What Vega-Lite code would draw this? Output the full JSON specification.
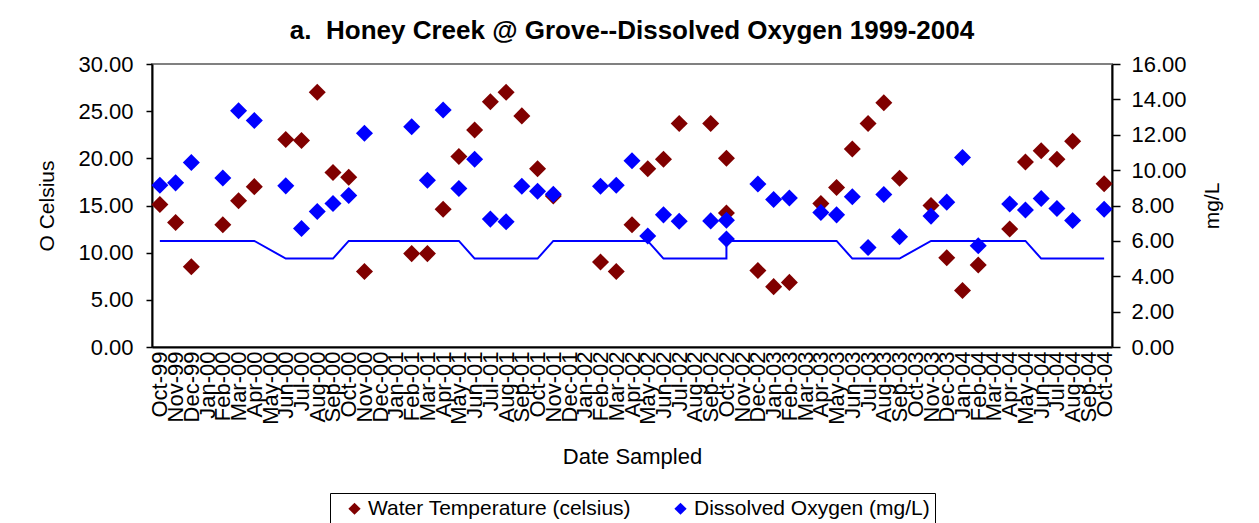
{
  "$schema": "https://vega.github.io/schema/vega-lite/v6.json",
  "autosize": {"type": "none"},
  "width": 960,
  "height": 283,
  "padding": {"left": 152, "top": 64, "right": 147, "bottom": 176},
  "background": "white",
  "config": {
    "font": "Liberation Sans",
    "view": {"stroke": "#808080", "strokeWidth": 2},
    "axis": {"grid": false, "domainColor": "black", "domainWidth": 2, "tickColor": "black", "tickWidth": 1.5, "labelColor": "black", "titleColor": "black", "labelFont": "Liberation Sans", "titleFont": "Liberation Sans", "titleFontWeight": "normal"}
  },
  "title": {"text": "a.\u00a0 Honey Creek @ Grove--Dissolved Oxygen 1999-2004", "fontSize": 26, "fontWeight": "bold", "font": "Liberation Sans", "color": "black", "anchor": "middle", "offset": 9},
  "data": {"values": [
    {"month": "Oct-99", "seq": 1, "T": 15.1, "DO": 9.15, "std": 6},
    {"month": "Nov-99", "seq": 2, "T": 13.2, "DO": 9.28, "std": 6},
    {"month": "Dec-99", "seq": 3, "T": 8.5, "DO": 10.43, "std": 6},
    {"month": "Feb-00", "seq": 4, "T": 12.95, "DO": 9.55, "std": 6},
    {"month": "Mar-00", "seq": 5, "T": 15.5, "DO": 13.36, "std": 6},
    {"month": "Apr-00", "seq": 6, "T": 17.0, "DO": 12.81, "std": 6},
    {"month": "Jun-00", "seq": 7, "T": 22.0, "DO": 9.11, "std": 5},
    {"month": "Jul-00", "seq": 8, "T": 21.9, "DO": 6.7, "std": 5},
    {"month": "Aug-00", "seq": 9, "T": 27.0, "DO": 7.66, "std": 5},
    {"month": "Sep-00", "seq": 10, "T": 18.5, "DO": 8.11, "std": 5},
    {"month": "Oct-00", "seq": 11, "T": 18.0, "DO": 8.57, "std": 6},
    {"month": "Nov-00", "seq": 12, "T": 8.0, "DO": 12.08, "std": 6},
    {"month": "Feb-01", "seq": 13, "T": 9.9, "DO": 12.45, "std": 6},
    {"month": "Mar-01", "seq": 14, "T": 9.9, "DO": 9.43, "std": 6},
    {"month": "Apr-01", "seq": 15, "T": 14.6, "DO": 13.4, "std": 6},
    {"month": "May-01", "seq": 16, "T": 20.2, "DO": 8.96, "std": 6},
    {"month": "Jun-01", "seq": 17, "T": 23.0, "DO": 10.62, "std": 5},
    {"month": "Jul-01", "seq": 18, "T": 26.0, "DO": 7.23, "std": 5},
    {"month": "Aug-01", "seq": 19, "T": 27.0, "DO": 7.08, "std": 5},
    {"month": "Sep-01", "seq": 20, "T": 24.5, "DO": 9.09, "std": 5},
    {"month": "Oct-01", "seq": 21, "T": 18.9, "DO": 8.81, "std": 5},
    {"month": "Nov-01", "seq": 22, "T": 16.0, "DO": 8.64, "std": 6},
    {"month": "Feb-02", "seq": 23, "T": 9.0, "DO": 9.09, "std": 6},
    {"month": "Mar-02", "seq": 24, "T": 8.0, "DO": 9.15, "std": 6},
    {"month": "Apr-02", "seq": 25, "T": 12.95, "DO": 10.53, "std": 6},
    {"month": "May-02", "seq": 26, "T": 18.9, "DO": 6.28, "std": 6},
    {"month": "Jun-02", "seq": 27, "T": 19.9, "DO": 7.47, "std": 5},
    {"month": "Jul-02", "seq": 28, "T": 23.7, "DO": 7.11, "std": 5},
    {"month": "Sep-02", "seq": 29, "T": 23.7, "DO": 7.13, "std": 5},
    {"month": "Oct-02", "seq": 30, "T": 20.0, "DO": 7.17, "std": 5},
    {"month": "Oct-02", "seq": 31, "T": 14.2, "DO": 6.1, "std": 6},
    {"month": "Dec-02", "seq": 32, "T": 8.1, "DO": 9.21, "std": 6},
    {"month": "Jan-03", "seq": 33, "T": 6.4, "DO": 8.34, "std": 6},
    {"month": "Feb-03", "seq": 34, "T": 6.85, "DO": 8.42, "std": 6},
    {"month": "Apr-03", "seq": 35, "T": 15.2, "DO": 7.6, "std": 6},
    {"month": "May-03", "seq": 36, "T": 16.9, "DO": 7.47, "std": 6},
    {"month": "Jun-03", "seq": 37, "T": 21.0, "DO": 8.49, "std": 5},
    {"month": "Jul-03", "seq": 38, "T": 23.7, "DO": 5.62, "std": 5},
    {"month": "Aug-03", "seq": 39, "T": 25.9, "DO": 8.62, "std": 5},
    {"month": "Sep-03", "seq": 40, "T": 17.9, "DO": 6.23, "std": 5},
    {"month": "Nov-03", "seq": 41, "T": 15.0, "DO": 7.4, "std": 6},
    {"month": "Dec-03", "seq": 42, "T": 9.45, "DO": 8.19, "std": 6},
    {"month": "Jan-04", "seq": 43, "T": 6.0, "DO": 10.72, "std": 6},
    {"month": "Feb-04", "seq": 44, "T": 8.7, "DO": 5.72, "std": 6},
    {"month": "Apr-04", "seq": 45, "T": 12.5, "DO": 8.08, "std": 6},
    {"month": "May-04", "seq": 46, "T": 19.6, "DO": 7.74, "std": 6},
    {"month": "Jun-04", "seq": 47, "T": 20.8, "DO": 8.4, "std": 5},
    {"month": "Jul-04", "seq": 48, "T": 19.9, "DO": 7.83, "std": 5},
    {"month": "Aug-04", "seq": 49, "T": 21.8, "DO": 7.15, "std": 5},
    {"month": "Oct-04", "seq": 50, "T": 17.3, "DO": 7.79, "std": 5}
  ]},
  "encoding": {
    "x": {
      "field": "month", "type": "ordinal",
      "scale": {"type": "point", "padding": 0.5, "domain": ["Oct-99","Nov-99","Dec-99","Jan-00","Feb-00","Mar-00","Apr-00","May-00","Jun-00","Jul-00","Aug-00","Sep-00","Oct-00","Nov-00","Dec-00","Jan-01","Feb-01","Mar-01","Apr-01","May-01","Jun-01","Jul-01","Aug-01","Sep-01","Oct-01","Nov-01","Dec-01","Jan-02","Feb-02","Mar-02","Apr-02","May-02","Jun-02","Jul-02","Aug-02","Sep-02","Oct-02","Nov-02","Dec-02","Jan-03","Feb-03","Mar-03","Apr-03","May-03","Jun-03","Jul-03","Aug-03","Sep-03","Oct-03","Nov-03","Dec-03","Jan-04","Feb-04","Mar-04","Apr-04","May-04","Jun-04","Jul-04","Aug-04","Sep-04","Oct-04"]},
      "axis": {"title": "Date Sampled", "titleFontSize": 22, "titlePadding": 22, "labelAngle": -90, "labelFontSize": 22, "labelOverlap": false, "labelPadding": 4, "ticks": false}
    }
  },
  "layer": [
    {
      "mark": {"type": "point", "shape": "diamond", "filled": true, "opacity": 1, "size": 290},
      "encoding": {
        "y": {"field": "T", "type": "quantitative", "scale": {"domain": [0, 30], "nice": false},
              "axis": {"orient": "left", "title": "O Celsius", "titleFontSize": 21, "values": [0,5,10,15,20,25,30], "format": ".2f", "labelFontSize": 22, "labelPadding": 13, "tickSize": 6, "titlePadding": 20}},
        "color": {"datum": "Water Temperature (celsius)", "type": "nominal",
                  "scale": {"domain": ["Water Temperature (celsius)", "Dissolved Oxygen (mg/L)"], "range": ["#800000", "#0000FF"]},
                  "legend": {"title": null, "orient": "none", "legendX": 178, "legendY": 429, "direction": "horizontal", "symbolType": "diamond", "symbolSize": 150, "symbolOffset": 9, "labelOffset": 3, "labelFontSize": 21, "labelColor": "black", "strokeColor": "black", "fillColor": "white", "padding": 5, "columnPadding": 30, "symbolOpacity": 1, "labelLimit": 400}}
      }
    },
    {
      "layer": [
        {
          "mark": {"type": "line", "color": "#0000FF", "strokeWidth": 2},
          "encoding": {
            "y": {"field": "std", "type": "quantitative"},
            "order": {"field": "seq"}
          }
        },
        {
          "mark": {"type": "point", "shape": "diamond", "filled": true, "opacity": 1, "size": 290},
          "encoding": {
            "y": {"field": "DO", "type": "quantitative"},
            "color": {"datum": "Dissolved Oxygen (mg/L)", "type": "nominal"}
          }
        }
      ],
      "encoding": {
        "y": {"type": "quantitative", "scale": {"domain": [0, 16], "nice": false},
              "axis": {"orient": "right", "title": "mg/L", "titleAngle": -90, "titleFontSize": 21, "values": [0,2,4,6,8,10,12,14,16], "format": ".2f", "labelFontSize": 22, "labelPadding": 11, "tickSize": 8, "titlePadding": 36}}
      }
    }
  ],
  "resolve": {"scale": {"y": "independent"}, "axis": {"y": "independent"}}
}
